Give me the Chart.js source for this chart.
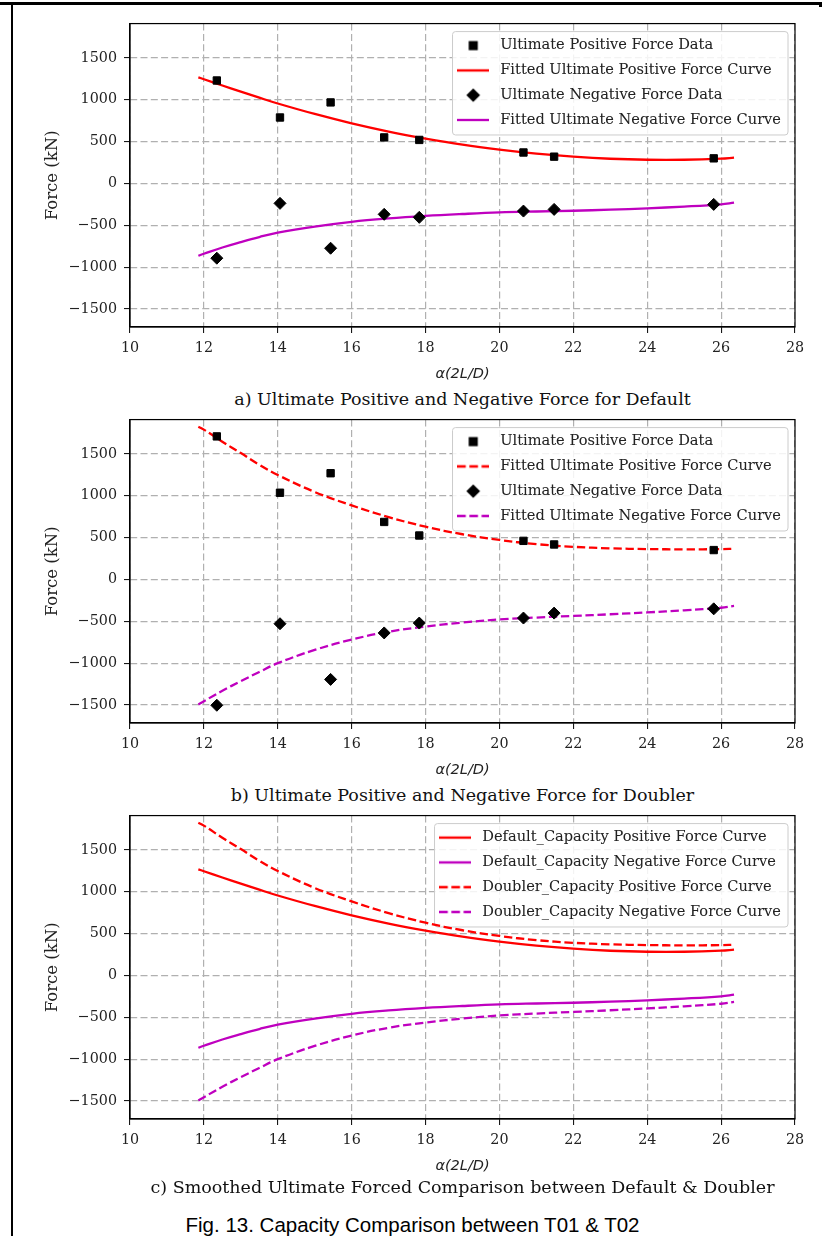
<!DOCTYPE html>
<html>
<head>
<meta charset="utf-8">
<script src="https://cdn.jsdelivr.net/npm/chart.js@4.4.1/dist/chart.umd.min.js"></script>
<style>
  body { margin: 0; background: #fff; }
  #page { position: relative; width: 825px; height: 1236px; overflow: hidden; background: #fff; }
  .rule { position: absolute; background: #000; }
  canvas { position: absolute; left: 14px; }
  .cap { position: absolute; left: 130px; width: 665px; text-align: center; white-space: nowrap;
         font-family: "DejaVu Serif", serif; font-size: 17.5px; line-height: 22px; color: #111; }
  .fig { position: absolute; left: 0; width: 825px; text-align: center; white-space: nowrap;
         font-family: "Liberation Sans", Arial, sans-serif; font-size: 20.5px; line-height: 24px; color: #000; }
</style>
</head>
<body>
<div id="page">
  <div class="rule" style="left:0;top:2px;width:822px;height:3px"></div>
  <div class="rule" style="left:819px;top:2px;width:3px;height:5px"></div>
  <div class="rule" style="left:11px;top:2px;width:2px;height:1234px"></div>

  <canvas id="chartA" width="811" height="377" style="top:8px"></canvas>
  <div class="cap" style="top:388px">a) Ultimate Positive and Negative Force for Default</div>

  <canvas id="chartB" width="811" height="377" style="top:404px"></canvas>
  <div class="cap" style="top:784px">b) Ultimate Positive and Negative Force for Doubler</div>

  <canvas id="chartC" width="811" height="377" style="top:800px"></canvas>
  <div class="cap" style="top:1176px">c) Smoothed Ultimate Forced Comparison between Default &amp; Doubler</div>

  <div class="fig" style="top:1213px">Fig. 13. Capacity Comparison between T01 &amp; T02</div>
</div>

<script>
const xTicks = [10, 12, 14, 16, 18, 20, 22, 24, 26, 28];
const yTicks = [-1500, -1000, -500, 0, 500, 1000, 1500];

// test results, alpha(2L/D) vs force (kN)
const sampleX = [12.35, 14.06, 15.43, 16.88, 17.83, 20.65, 21.48, 25.8];
const defaultPosData = [1230, 788, 968, 550, 520, 370, 320, 300];
const defaultNegData = [-893, -238, -774, -369, -405, -330, -310, -250];
const doublerPosData = [1709, 1036, 1269, 687, 525, 461, 418, 351];
const doublerNegData = [-1503, -529, -1194, -639, -521, -461, -402, -351];

// fitted curves
const curveX = [11.85, 12, 12.5, 13, 13.5, 14, 15, 16, 17, 18, 19, 20, 21, 22, 23, 24, 25, 26, 26.35];
const defaultPosCurve = [1268, 1245, 1170, 1098, 1025, 955, 830, 718, 620, 536, 463, 404, 356, 320, 295, 283, 283, 296, 308];
const defaultNegCurve = [-864, -840, -765, -700, -640, -588, -515, -458, -418, -388, -365, -346, -335, -326, -313, -297, -276, -249, -230];
const doublerPosCurve = [1825, 1790, 1645, 1510, 1370, 1248, 1045, 885, 745, 630, 540, 472, 422, 390, 372, 363, 360, 362, 366];
const doublerNegCurve = [-1495, -1455, -1330, -1215, -1105, -1000, -842, -718, -625, -562, -515, -478, -455, -436, -416, -394, -369, -338, -316];

const fitLabels = ['Ultimate Positive Force Data', 'Fitted Ultimate Positive Force Curve',
                   'Ultimate Negative Force Data', 'Fitted Ultimate Negative Force Curve'];
const compareLabels = ['Default_Capacity Positive Force Curve', 'Default_Capacity Negative Force Curve',
                       'Doubler_Capacity Positive Force Curve', 'Doubler_Capacity Negative Force Curve'];

const RED = '#ff0000', MAGENTA = '#bf00bf';
const SERIF = '"DejaVu Serif", serif', SANS = '"DejaVu Sans", sans-serif';
const GRID = '#b0b0b0', GRID_DASH = [7, 3.3];
const LINE_W = 2.3, DASH = [8.5, 3.7];
const LEGEND_FS = 14.6;

function points(xs, ys) {
    return xs.map(function (x, i) { return { x: x, y: ys[i] }; });
}

// small canvases used as legend symbols
function symbolCanvas(draw) {
    var c = document.createElement('canvas');
    c.width = 32; c.height = 16;
    draw(c.getContext('2d'));
    return c;
}
function lineSym(color, dash) {
    return symbolCanvas(function (g) {
        g.strokeStyle = color; g.lineWidth = LINE_W; g.setLineDash(dash);
        g.beginPath(); g.moveTo(0, 8); g.lineTo(32, 8); g.stroke();
    });
}
const squareSym = symbolCanvas(function (g) {
    g.fillStyle = '#000'; g.fillRect(11.5, 3.5, 9, 9);
});
const diamondSym = symbolCanvas(function (g) {
    g.fillStyle = '#000'; g.beginPath();
    g.moveTo(16, 1.2); g.lineTo(22.8, 8); g.lineTo(16, 14.8); g.lineTo(9.2, 8);
    g.closePath(); g.fill();
});

function markers(label, ys, style) {
    return {
        label: label, data: points(sampleX, ys),
        pointStyle: style, pointRadius: style === 'rect' ? 5.2 : 6,
        backgroundColor: '#000', borderColor: '#000', borderWidth: 1,
        legendSymbol: style === 'rect' ? squareSym : diamondSym
    };
}
function curve(label, ys, color, dash) {
    return {
        label: label, data: points(curveX, ys), showLine: true, pointRadius: 0,
        borderColor: color, backgroundColor: color, borderWidth: LINE_W, borderDash: dash,
        tension: 0.4, legendSymbol: lineSym(color, dash)
    };
}

function tickText(v) {
    return v < 0 ? '\u2212' + Math.abs(v) : String(v);
}

// legend sits in the upper right of the plot with a matplotlib-like frame
const legendFrame = {
    id: 'legendFrame',
    afterLayout: function (chart) {
        var lg = chart.legend, ca = chart.chartArea;
        var pad = lg.options.labels.padding;
        var colW = Math.max.apply(null, lg.legendHitBoxes.map(function (h) { return h.width; }));
        var w = lg.width, h = lg.height;
        lg.left = ca.right - 14 - colW - pad;
        lg.right = lg.left + w;
        lg.top = ca.top + 22 - LEGEND_FS / 2 - pad;
        lg.bottom = lg.top + h;
    },
    beforeDatasetsDraw: function (chart) {
        var lg = chart.legend, boxes = lg.legendHitBoxes, ctx = chart.ctx;
        var first = boxes[0], last = boxes[boxes.length - 1];
        var left = first.left - 1;
        var right = Math.max.apply(null, boxes.map(function (b) { return b.left + b.width; })) + 7;
        var top = first.top + LEGEND_FS / 2 - 14;
        var bottom = last.top + LEGEND_FS / 2 + 15;
        ctx.save();
        ctx.beginPath();
        ctx.roundRect(left, top, right - left, bottom - top, 3);
        ctx.fillStyle = 'rgba(255,255,255,0.85)';
        ctx.fill();
        ctx.strokeStyle = '#cccccc';
        ctx.lineWidth = 1;
        ctx.stroke();
        ctx.restore();
        lg.draw();
    },
    afterDatasetsDraw: function (chart) {
        var ca = chart.chartArea, ctx = chart.ctx;
        ctx.save();
        ctx.strokeStyle = '#000';
        ctx.lineWidth = 1.2;
        ctx.strokeRect(ca.left, ca.top, ca.right - ca.left, ca.bottom - ca.top);
        ctx.restore();
    }
};

function makeChart(id, datasets) {
    return new Chart(document.getElementById(id), {
        type: 'scatter',
        data: { datasets: datasets },
        options: {
            responsive: false,
            animation: false,
            events: [],
            layout: { padding: { top: 15, right: 30, bottom: 0, left: 0 } },
            plugins: {
                tooltip: { enabled: false },
                legend: {
                    position: 'chartArea',
                    align: 'start',
                    labels: {
                        usePointStyle: true,
                        pointStyleWidth: 54 - LEGEND_FS,
                        padding: 10.2,
                        color: '#222',
                        font: { family: SERIF, size: LEGEND_FS },
                        generateLabels: function (chart) {
                            return chart.data.datasets.map(function (ds, i) {
                                return {
                                    text: ds.label, pointStyle: ds.legendSymbol,
                                    fillStyle: '#000', strokeStyle: '#000', lineWidth: 1,
                                    fontColor: '#222', hidden: false, datasetIndex: i
                                };
                            });
                        }
                    }
                }
            },
            scales: {
                x: {
                    type: 'linear', min: 10, max: 28,
                    afterBuildTicks: function (s) { s.ticks = xTicks.map(function (v) { return { value: v }; }); },
                    afterFit: function (s) { s.height = 58; },
                    grid: { color: GRID, lineWidth: 1.2, borderDash: GRID_DASH, tickLength: 6,
                            tickColor: '#000', tickWidth: 1, tickBorderDash: [] },
                    border: { display: true, color: '#000', width: 1.2, dash: GRID_DASH },
                    ticks: { color: '#222', padding: 7, maxRotation: 0, autoSkip: false,
                             font: { family: SERIF, size: 14.3 }, callback: tickText },
                    title: { display: true, text: 'α(2L/D)', color: '#222',
                             font: { family: SANS, size: 14.5, style: 'italic' },
                             padding: { top: 0, bottom: 2.3 } }
                },
                y: {
                    type: 'linear', min: -1715, max: 1910,
                    afterBuildTicks: function (s) { s.ticks = yTicks.map(function (v) { return { value: v }; }); },
                    afterFit: function (s) { s.width = 116; },
                    grid: { color: GRID, lineWidth: 1.2, borderDash: GRID_DASH, tickLength: 6,
                            tickColor: '#000', tickWidth: 1, tickBorderDash: [] },
                    border: { display: true, color: '#000', width: 1.2, dash: GRID_DASH },
                    ticks: { color: '#222', padding: 7, font: { family: SERIF, size: 14.3 }, callback: tickText },
                    title: { display: true, text: 'Force (kN)', color: '#222',
                             font: { family: SERIF, size: 16.5 }, padding: { top: 28.6, bottom: 0 } }
                }
            }
        },
        plugins: [legendFrame]
    });
}

makeChart('chartA', [
    markers(fitLabels[0], defaultPosData, 'rect'),
    curve(fitLabels[1], defaultPosCurve, RED, []),
    markers(fitLabels[2], defaultNegData, 'rectRot'),
    curve(fitLabels[3], defaultNegCurve, MAGENTA, [])
]);

makeChart('chartB', [
    markers(fitLabels[0], doublerPosData, 'rect'),
    curve(fitLabels[1], doublerPosCurve, RED, DASH),
    markers(fitLabels[2], doublerNegData, 'rectRot'),
    curve(fitLabels[3], doublerNegCurve, MAGENTA, DASH)
]);

makeChart('chartC', [
    curve(compareLabels[0], defaultPosCurve, RED, []),
    curve(compareLabels[1], defaultNegCurve, MAGENTA, []),
    curve(compareLabels[2], doublerPosCurve, RED, DASH),
    curve(compareLabels[3], doublerNegCurve, MAGENTA, DASH)
]);
</script>
</body>
</html>
